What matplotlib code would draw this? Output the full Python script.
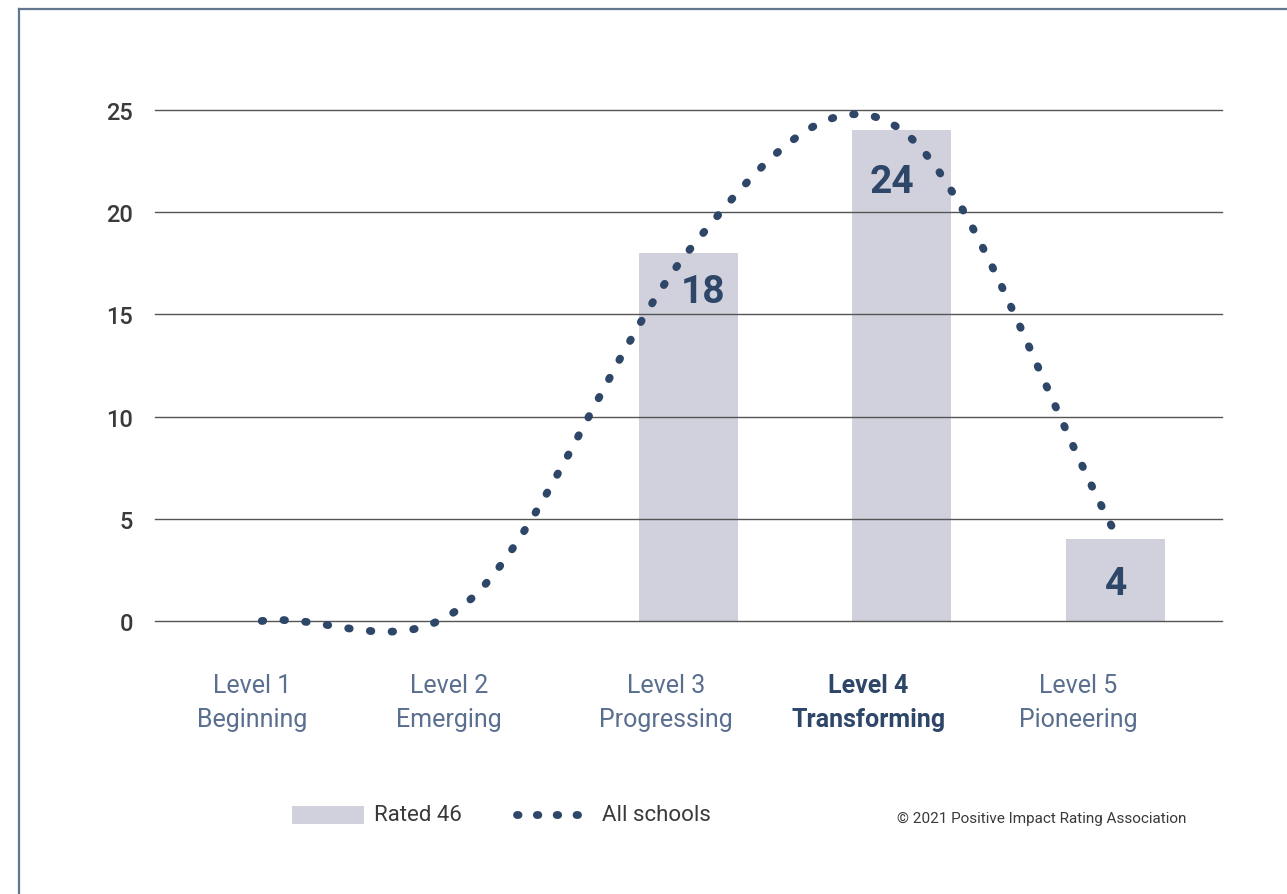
import matplotlib
matplotlib.use("Agg")
import matplotlib.pyplot as plt
from matplotlib.path import Path
from matplotlib.patches import PathPatch, Rectangle
from matplotlib.lines import Line2D

plt.rcParams['font.family'] = ['Roboto', 'DejaVu Sans']

# ---- data -------------------------------------------------------------
levels = ["Level 1", "Level 2", "Level 3", "Level 4", "Level 5"]
stages = ["Beginning", "Emerging", "Progressing", "Transforming", "Pioneering"]
rated_46 = [0, 0, 18, 24, 4]
all_schools = [0.0, 1.27, 18.1, 24.0, 4.3]
y_ticks = [0, 5, 10, 15, 20, 25]
highlight = 3  # Level 4

# ---- style ------------------------------------------------------------
NAVY = "#2e4668"
BAR = "#d1d1dd"
LABEL = "#5a6f8f"
DARK = "#3a3a3a"
GRID = "#555555"
DOTS = (0, (0.2, 2.6))
DOT_LW = 5.6

W, H, DPI = 1287, 895, 100
fig = plt.figure(figsize=(W / DPI, H / DPI), dpi=DPI)
ax = fig.add_axes([155 / W, (H - 622) / H, (1222 - 155) / W, (622 - 111) / H])

x = list(range(len(levels)))
ax.bar(x, rated_46, width=0.464, color=BAR, zorder=2)

ax.set_xlim(-0.5, len(levels) - 0.5)
ax.set_ylim(0, 25)
ax.set_yticks(y_ticks)
ax.set_yticklabels([str(t) for t in y_ticks], fontsize=17, fontweight="medium", color=DARK)
ax.tick_params(axis="y", length=0, pad=16)
ax.set_xticks([])
for s in ax.spines.values():
    s.set_visible(False)
for t in y_ticks:
    ax.axhline(t, color=GRID, lw=1.0, zorder=3, clip_on=False)

# smoothed line through the "All schools" values (cubic Bezier segments,
# handles evenly spaced in x, slopes taken from the neighbouring values)
k, k_end = 0.188, 1 / 3
verts = [(x[0], all_schools[0])]
codes = [Path.MOVETO]
n = len(x)
for i in range(n - 1):
    y0, y1 = all_schools[i], all_schools[i + 1]
    if i == 0:
        c1y = y0 + (y1 - y0) * k_end
    else:
        c1y = y0 + (y1 - all_schools[i - 1]) * k
    if i + 1 == n - 1:
        c2y = y1 - (y1 - y0) * k_end
    else:
        c2y = y1 - (all_schools[i + 2] - y0) * k
    verts += [(x[i] + 1 / 3, c1y), (x[i + 1] - 1 / 3, c2y), (x[i + 1], y1)]
    codes += [Path.CURVE4] * 3

curve = PathPatch(Path(verts, codes), fill=False, edgecolor=NAVY, lw=DOT_LW,
                  linestyle=DOTS, capstyle="round", zorder=4, clip_on=False)
ax.add_patch(curve)

# value labels inside the bars
label_offsets = {2: (15, -38), 3: (-10, -51), 4: (1, -44)}
for i, v in enumerate(rated_46):
    if v > 0:
        dx, dy = label_offsets[i]
        ax.annotate(str(v), (i, v), xytext=(dx, dy), textcoords="offset pixels",
                    ha="center", va="center", fontsize=28, fontweight="bold",
                    color=NAVY, zorder=5)

# category labels
cat_shift = [-0.045, -0.122, -0.105, -0.156, -0.174]
xt = ax.get_xaxis_transform()
for i, (lv, st) in enumerate(zip(levels, stages)):
    bold = i == highlight
    kw = dict(ha="center", va="center", fontsize=18, transform=xt,
              color=NAVY if bold else LABEL, fontweight="bold" if bold else "normal")
    ax.text(i + cat_shift[i], -0.125, lv, **kw)
    ax.text(i + cat_shift[i], -0.192, st, **kw)

# legend
def fx(px):
    return px / W

def fy(py):
    return (H - py) / H

fig.patches.append(Rectangle((fx(292), fy(825)), fx(364) - fx(292), fy(807) - fy(825),
                             transform=fig.transFigure, facecolor=BAR, edgecolor="none"))
fig.text(fx(374), fy(816), "Rated 46", fontsize=16, color=DARK, va="center", ha="left")
fig.add_artist(Line2D([fx(517), fx(584)], [fy(816), fy(816)], transform=fig.transFigure,
                      color=NAVY, lw=DOT_LW, linestyle=(0, (0.2, 2.35)),
                      dash_capstyle="round", solid_capstyle="round"))
fig.text(fx(602), fy(816), "All schools", fontsize=16, color=DARK, va="center", ha="left")
fig.text(fx(1186), fy(819), "\u00a9 2021 Positive Impact Rating Association", fontsize=11,
         color=DARK, va="center", ha="right")

# frame lines along the top and left edges
BORDER = "#62778f"
fig.add_artist(Line2D([fx(19), 1.0], [fy(10), fy(10)], transform=fig.transFigure,
                      color=BORDER, lw=1.6))
fig.add_artist(Line2D([fx(19), fx(19)], [fy(10), 0.0], transform=fig.transFigure,
                      color=BORDER, lw=1.6))

fig.savefig("out.png", dpi=DPI, facecolor="white")
